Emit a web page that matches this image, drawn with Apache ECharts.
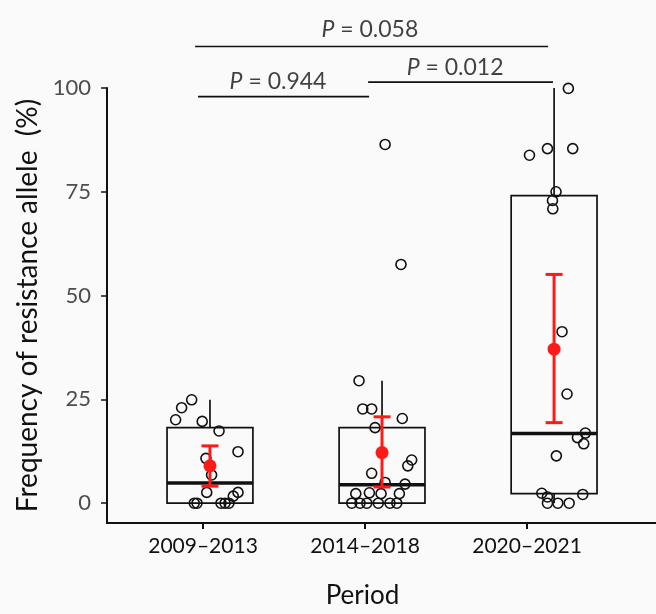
<!DOCTYPE html>
<html><head><meta charset="utf-8">
<script src="https://cdn.jsdelivr.net/npm/echarts@6/dist/echarts.min.js"></script>
<style>html,body{margin:0;padding:0;background:#fafafa}#c{width:656px;height:614px}</style>
</head><body><div id="c"></div>
<script>
// ---- data ----
const categories = ['2009\u20132013', '2014\u20132018', '2020\u20132021'];
const tickValues = [1, 2, 3];
const yTicks = [0, 25, 50, 75, 100];
// box centers (as drawn, slightly right of tick)
const boxCenters = [1.043, 2.105, 3.167];
// [whiskerLow, q1, median, q3, whiskerHigh]
const boxStats = [
  [0, 0, 4.85, 18.2, 24.9],
  [0, 0, 4.45, 18.2, 29.5],
  [0, 2.3, 16.8, 74.1, 100]
];
// mean and error bar [low, mean, high]
const meanStats = [
  [4.1, 9.0, 13.8],
  [3.9, 12.2, 20.8],
  [19.4, 37.1, 55.1]
];
// jittered points: [offset from box center, value]
const points1 = [[-0.113,24.9],[-0.175,23.0],[-0.212,20.1],[-0.048,19.7],[0.056,17.4],[0.173,12.4],[-0.025,10.8],[0.010,6.8],[-0.020,2.6],[0.173,2.6],[0.144,1.7],[-0.097,0],[-0.080,0],[0.068,0],[0.093,0],[0.117,0]];
const points2 = [[-0.142,29.5],[-0.119,22.7],[-0.064,22.7],[0.125,20.4],[-0.043,18.2],[0.183,10.4],[0.159,9.0],[-0.064,7.2],[0.019,5.0],[0.142,4.6],[-0.162,2.3],[-0.078,2.5],[-0.006,2.3],[0.107,2.3],[-0.187,0],[-0.136,0],[-0.094,0],[-0.023,0],[0.049,0],[0.091,0],[0.019,86.4],[0.117,57.5]];
const points3 = [[0.088,99.9],[-0.152,83.8],[-0.041,85.4],[0.115,85.4],[0.012,75.0],[-0.010,72.9],[-0.008,70.9],[0.049,41.3],[0.080,26.3],[0.193,16.9],[0.144,15.8],[0.183,14.3],[0.014,11.4],[-0.076,2.4],[-0.041,1.5],[0.177,2.1],[-0.041,0],[0.023,0],[0.093,0]];
// significance brackets: [x1, x2, y] and labels [x, y, text]
const brackets = [[0.951, 3.130, 110.0],[0.969, 2.025, 97.9],[2.019, 3.160, 101.4]];
const pLabels = [[2.03, 114.1, '0.058'],[1.463, 101.6, '0.944'],[2.556, 105.0, '0.012']];

const FONT = 'Lato';
const allPoints = [points1, points2, points3];

const chart = echarts.init(document.getElementById('c'));
const series = [];

series.push({
  type: 'custom', z: 2,
  data: boxStats.map((s, i) => [boxCenters[i]].concat(s)),
  renderItem: function (params, api) {
    const x = api.value(0);
    const lo = api.coord([x, api.value(1)]), q1 = api.coord([x, api.value(2)]),
      md = api.coord([x, api.value(3)]), q3 = api.coord([x, api.value(4)]), hi = api.coord([x, api.value(5)]);
    const hw = api.size([0.265, 0])[0];
    const st = {stroke: '#111', lineWidth: 1.7, fill: null};
    return {type: 'group', children: [
      {type: 'line', shape: {x1: lo[0], y1: lo[1], x2: lo[0], y2: q1[1]}, style: st},
      {type: 'line', shape: {x1: hi[0], y1: hi[1], x2: hi[0], y2: q3[1]}, style: st},
      {type: 'rect', shape: {x: q3[0] - hw, y: q3[1], width: hw * 2, height: q1[1] - q3[1]}, style: st},
      {type: 'line', shape: {x1: md[0] - hw, y1: md[1], x2: md[0] + hw, y2: md[1]}, style: {stroke: '#111', lineWidth: 3.5}}
    ]};
  }
});

allPoints.forEach((pts, i) => {
  series.push({
    type: 'scatter', z: 3,
    symbol: 'circle', symbolSize: 10,
    itemStyle: {color: 'rgba(0,0,0,0)', borderColor: '#111', borderWidth: 1.6, opacity: 1},
    data: pts.map(p => [boxCenters[i] + p[0], p[1]])
  });
});

series.push({
  type: 'custom', z: 4,
  data: meanStats.map((s, i) => [boxCenters[i]].concat(s)),
  renderItem: function (params, api) {
    const x = api.value(0);
    const lo = api.coord([x, api.value(1)]), hi = api.coord([x, api.value(3)]);
    const st = {stroke: '#ff1a1a', lineWidth: 3};
    const cw = 8.5;
    return {type: 'group', children: [
      {type: 'line', shape: {x1: lo[0], y1: lo[1], x2: hi[0], y2: hi[1]}, style: st},
      {type: 'line', shape: {x1: lo[0] - cw, y1: lo[1], x2: lo[0] + cw, y2: lo[1]}, style: st},
      {type: 'line', shape: {x1: hi[0] - cw, y1: hi[1], x2: hi[0] + cw, y2: hi[1]}, style: st}
    ]};
  }
});
series.push({
  type: 'scatter', z: 5, symbol: 'circle', symbolSize: 13,
  itemStyle: {color: '#ff1a1a', opacity: 1},
  data: meanStats.map((s, i) => [boxCenters[i], s[1]])
});

brackets.forEach(b => {
  series.push({
    type: 'line', clip: false, symbol: 'none', z: 6,
    lineStyle: {color: '#111', width: 1.7},
    data: [[b[0], b[2]], [b[1], b[2]]]
  });
});
series.push({
  type: 'scatter', clip: false, symbolSize: 0, z: 6,
  data: pLabels.map(p => ({value: [p[0], p[1]], name: p[2]})),
  label: {
    show: true, position: 'inside',
    formatter: p => '{i|P} = ' + p.name,
    fontFamily: FONT, fontSize: 23, color: '#111',
    rich: {i: {fontStyle: 'italic', fontFamily: FONT, fontSize: 23, color: '#111'}}
  }
});

chart.setOption({
  backgroundColor: '#fafafa',
  animation: false,
  grid: {left: 107, right: 0, top: 88, bottom: 87},
  xAxis: {
    type: 'value', min: 0.4074, max: 3.796,
    splitLine: {show: false},
    axisLine: {show: true, onZero: false, lineStyle: {color: '#111', width: 2}},
    axisTick: {show: true, customValues: tickValues, length: 6, lineStyle: {color: '#111', width: 2}},
    axisLabel: {customValues: tickValues, formatter: v => categories[Math.round(v) - 1], fontFamily: FONT, fontSize: 21, color: '#111', margin: 13},
    name: 'Period', nameLocation: 'middle', nameGap: 60,
    nameTextStyle: {fontFamily: FONT, fontSize: 26, color: '#111', padding: [0, 38, 0, 0]}
  },
  yAxis: {
    type: 'value', min: -4.77, max: 100,
    splitLine: {show: false},
    axisLine: {show: true, onZero: false, lineStyle: {color: '#111', width: 2}},
    axisTick: {show: true, customValues: yTicks, length: 6, lineStyle: {color: '#111', width: 1.5}},
    axisLabel: {customValues: yTicks, fontFamily: FONT, fontSize: 22, color: '#4d4d4d', margin: 16},
    name: 'Frequency of resistance allele  (%)', nameLocation: 'middle', nameGap: 58,
    nameTextStyle: {fontFamily: FONT, fontSize: 28, color: '#111'}
  },
  series: series
});
</script></body></html>
